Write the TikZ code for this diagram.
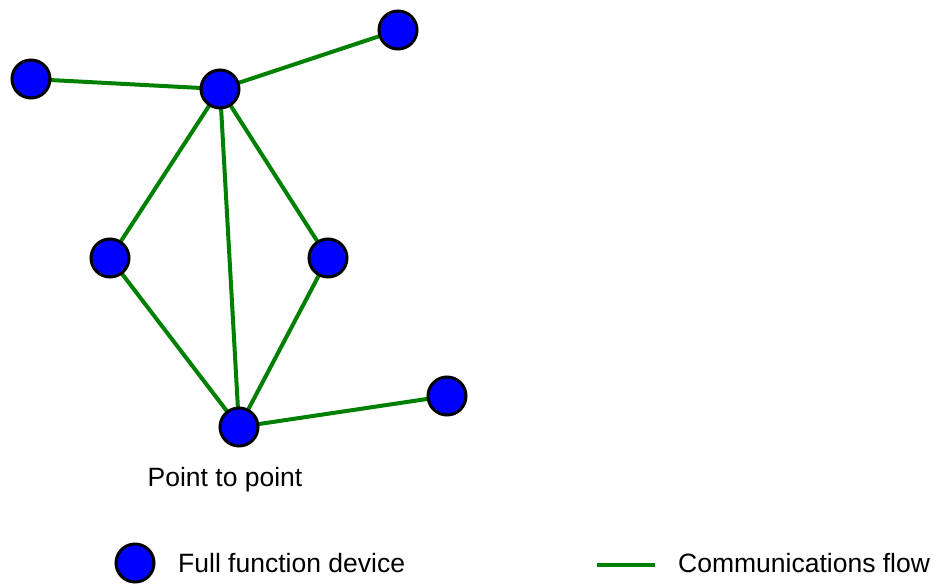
\documentclass[tikz,border=0pt]{standalone}
\usepackage{fontspec}
\setmainfont{Liberation Sans}
\definecolor{devblue}{RGB}{0,0,255}
\definecolor{flowgreen}{RGB}{0,128,0}
\begin{document}
\begin{tikzpicture}[x=1pt,y=-1pt,
  device/.style={circle,draw=black,line width=3pt,fill=devblue,minimum size=38pt,inner sep=0pt},
  flow/.style={draw=flowgreen,line width=4pt},
  label/.style={font=\fontsize{26.5}{30}\selectfont,inner sep=0pt}]
\useasboundingbox (0,0) rectangle (933,583);
% network links
\coordinate (pc) at (220,89);
\coordinate (pl) at (31,79);
\coordinate (pr) at (398,30);
\coordinate (pml) at (110,258);
\coordinate (pmr) at (328,258);
\coordinate (pb) at (239,427);
\coordinate (pbr) at (447,396);
\draw[flow] (pl) -- (pc) -- (pr);
\draw[flow] (pc) -- (pml) -- (pb) -- (pmr) -- cycle;
\draw[flow] (pc) -- (pb) -- (pbr);
% devices
\node[device] (c) at (pc) {};
\node[device] (l) at (pl) {};
\node[device] (r) at (pr) {};
\node[device] (ml) at (pml) {};
\node[device] (mr) at (pmr) {};
\node[device] (b) at (pb) {};
\node[device] (br) at (pbr) {};
% caption
\node[label] (cap) at (225,480) {Point to point};
% legend
\node[device] (legdev) at (135,563) {};
\node[label,anchor=west] (legdevtxt) at (178,563) {Full function device};
\coordinate (lf1) at (597,565);
\coordinate (lf2) at (655,565);
\draw[flow] (lf1) -- (lf2);
\node[label,anchor=west] (legflowtxt) at (678,563) {Communications flow};
\end{tikzpicture}
\end{document}
